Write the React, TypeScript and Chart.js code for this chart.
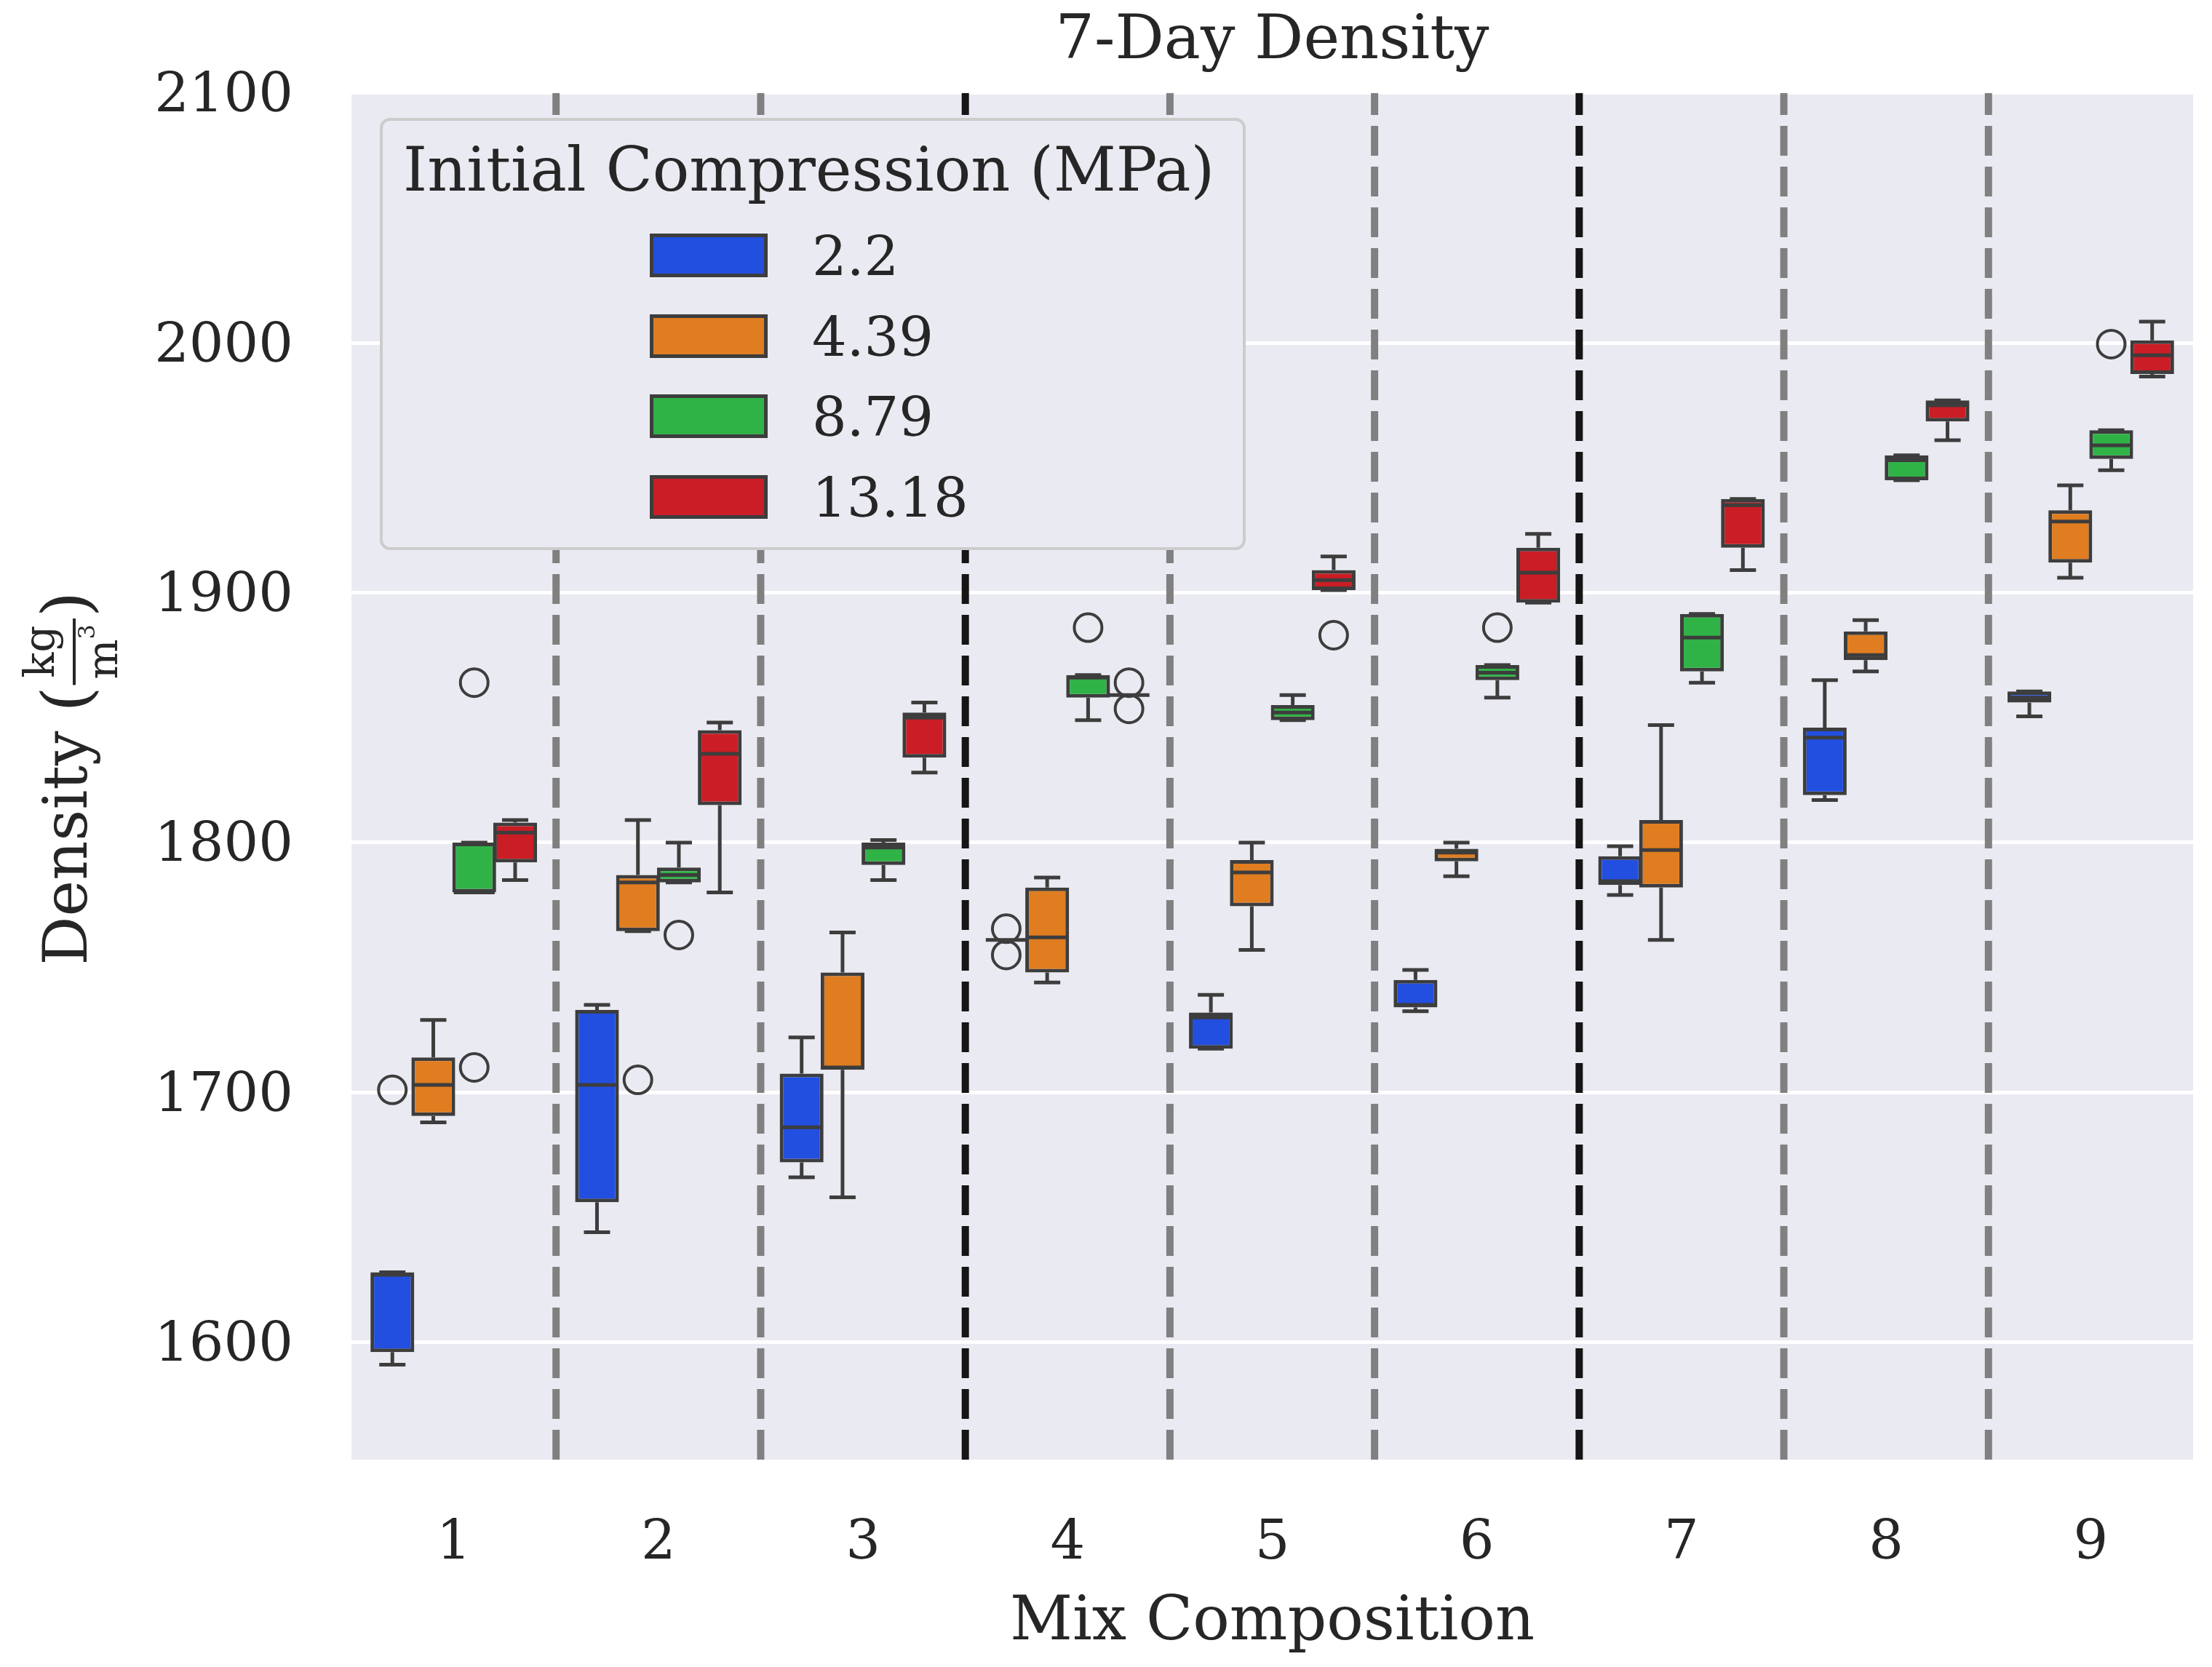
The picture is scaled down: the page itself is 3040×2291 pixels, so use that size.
import React, { useEffect, useRef } from 'react';
import { Chart, registerables } from 'chart.js';

Chart.register(...registerables);

const FONT = '"DejaVu Serif", serif';
const TEXT = '#262626';
const LINE = '#3d3d3d';
const PLOT_BG = '#eaeaf2';

const categories = ['1', '2', '3', '4', '5', '6', '7', '8', '9'];
const hueLabels = ['2.2', '4.39', '8.79', '13.18'];
const hueColors = ['#224fe0', '#df7d20', '#30b346', '#cb1d25'];

// [lower whisker, q1, median, q3, upper whisker] for each mix composition
const boxes22 = [
    [1591, 1596, 1627, 1628, 1628],
    [1644, 1656, 1703, 1733, 1735],
    [1666, 1672, 1686, 1707.5, 1722],
    [1761, 1761, 1761, 1761, 1761],
    [1717.5, 1717.5, 1730, 1732, 1739],
    [1732.5, 1734, 1735, 1745, 1749],
    [1779, 1783, 1784.5, 1794.5, 1798.5],
    [1817, 1819, 1842, 1846, 1865],
    [1850.5, 1856, 1858, 1860.5, 1860.5],
];
const boxes439 = [
    [1688, 1690.5, 1703, 1714, 1729],
    [1764.5, 1764.5, 1784, 1787, 1809],
    [1658, 1709, 1710, 1748, 1764],
    [1744, 1748, 1762, 1782, 1786],
    [1757, 1774.5, 1788, 1793, 1800],
    [1786.5, 1792.5, 1796, 1797.5, 1800],
    [1761, 1782, 1797, 1809, 1847],
    [1868.5, 1873, 1875, 1884.5, 1889],
    [1906, 1912, 1928.5, 1933, 1943],
];
const boxes879 = [
    [1780, 1780, 1780, 1800, 1800],
    [1784, 1784, 1787, 1790, 1800],
    [1785, 1791, 1798, 1800, 1801],
    [1849, 1858, 1866, 1867, 1867],
    [1849, 1849, 1852, 1855, 1859],
    [1858, 1865, 1868, 1871, 1871],
    [1864, 1868.5, 1882, 1891.5, 1891.5],
    [1945, 1945, 1953, 1955, 1955],
    [1949, 1953.5, 1959, 1965, 1965],
];
const boxes1318 = [
    [1785, 1792, 1804, 1808, 1809],
    [1780, 1815, 1835.5, 1845, 1848],
    [1828, 1834, 1850, 1852, 1856],
    [1859, 1859, 1859, 1859, 1859],
    [1901, 1901, 1905, 1909, 1914.5],
    [1896, 1896, 1908, 1918, 1923.5],
    [1909, 1918, 1935, 1937.5, 1937.5],
    [1961, 1968.5, 1975, 1977, 1977],
    [1986.5, 1987.5, 1995, 2001, 2008.5],
];

// [mix index, value]
const outliers22 = [[0, 1701], [3, 1765.5], [3, 1755]];
const outliers439 = [[1, 1705]];
const outliers879 = [[0, 1864], [0, 1710], [1, 1763], [3, 1886], [5, 1886], [8, 1999.5]];
const outliers1318 = [[3, 1864], [3, 1853.5], [4, 1883]];

const yTicks = [1600, 1700, 1800, 1900, 2000, 2100];
const Y_MIN = 1553;
const Y_MAX = 2100;

const allBoxes = [boxes22, boxes439, boxes879, boxes1318];
const allOutliers = [outliers22, outliers439, outliers879, outliers1318];

const HUE_OFFSETS = [-0.3, -0.1, 0.1, 0.3];
const BOX_HALF = 0.1;
const CAP_HALF = 0.064;
const GROUP_SIZE = 3;

// whiskers, caps and medians as broken line segments
function boxLines(stats: number[][], hue: number) {
    const pts: { x: number; y: number | null }[] = [];
    const seg = (x1: number, y1: number, x2: number, y2: number) => {
        pts.push({ x: x1, y: y1 }, { x: x2, y: y2 }, { x: x2, y: null });
    };
    stats.forEach(([lo, q1, med, q3, hi], i) => {
        const c = i + HUE_OFFSETS[hue];
        seg(c, q3, c, hi);
        seg(c - CAP_HALF, hi, c + CAP_HALF, hi);
        seg(c, q1, c, lo);
        seg(c - CAP_HALF, lo, c + CAP_HALF, lo);
        seg(c - BOX_HALF, med, c + BOX_HALF, med);
    });
    return pts;
}

function separatorLines(heavy: boolean) {
    const pts: { x: number; y: number | null }[] = [];
    for (let k = 1; k < categories.length; k++) {
        if ((k % GROUP_SIZE === 0) !== heavy) continue;
        pts.push({ x: k - 0.5, y: Y_MIN }, { x: k - 0.5, y: Y_MAX }, { x: k - 0.5, y: null });
    }
    return pts;
}

const plotBackground = {
    id: 'plotBackground',
    beforeDraw(chart: any) {
        const { ctx, chartArea, width, height } = chart;
        ctx.save();
        ctx.fillStyle = '#ffffff';
        ctx.fillRect(0, 0, width, height);
        ctx.fillStyle = PLOT_BG;
        ctx.fillRect(chartArea.left, chartArea.top, chartArea.right - chartArea.left, chartArea.bottom - chartArea.top);
        ctx.restore();
    },
};

// y title with a stacked kg / m^3 fraction
const yTitle = {
    id: 'yTitle',
    afterDraw(chart: any) {
        const { ctx, chartArea } = chart;
        const cy = (chartArea.top + chartArea.bottom) / 2 + 3;
        ctx.save();
        ctx.fillStyle = TEXT;
        ctx.strokeStyle = TEXT;
        ctx.translate(0, cy);
        ctx.rotate(-Math.PI / 2);
        ctx.textBaseline = 'alphabetic';
        ctx.font = `84px ${FONT}`;
        const wD = ctx.measureText('Density').width;
        ctx.font = `58px ${FONT}`;
        const wNum = ctx.measureText('kg').width;
        const wM = ctx.measureText('m').width;
        ctx.font = `32px ${FONT}`;
        const w3 = ctx.measureText('3').width;
        ctx.font = `90px ${FONT}`;
        const wP = ctx.measureText('(').width;
        const fracW = Math.max(wNum, wM + w3) + 20;
        const space = 26;
        let u = -(wD + space + wP + fracW + wP) / 2;
        ctx.textAlign = 'left';
        ctx.font = `84px ${FONT}`;
        ctx.fillText('Density', u, 119);
        u += wD + space;
        ctx.font = `90px ${FONT}`;
        ctx.fillText('(', u, 122);
        u += wP;
        ctx.lineWidth = 4;
        ctx.beginPath();
        ctx.moveTo(u + 2, 102);
        ctx.lineTo(u + fracW - 2, 102);
        ctx.stroke();
        const fc = u + fracW / 2;
        ctx.font = `58px ${FONT}`;
        ctx.textAlign = 'center';
        ctx.fillText('kg', fc, 74);
        ctx.textAlign = 'left';
        const d0 = fc - (wM + w3) / 2;
        ctx.fillText('m', d0, 161);
        ctx.font = `32px ${FONT}`;
        ctx.fillText('3', d0 + wM, 130);
        u += fracW;
        ctx.font = `90px ${FONT}`;
        ctx.fillText(')', u, 122);
        ctx.restore();
    },
};

const legendBox: React.CSSProperties = {
    position: 'absolute',
    left: 522,
    top: 162,
    width: 1190,
    height: 594,
    boxSizing: 'border-box',
    border: '4px solid #cccccc',
    borderRadius: 14,
    background: PLOT_BG,
    fontFamily: FONT,
    color: TEXT,
};

const App: React.FC = () => {
    const canvasRef = useRef<HTMLCanvasElement>(null);
    const chartRef = useRef<Chart | null>(null);

    useEffect(() => {
        if (!canvasRef.current) return;
        if (chartRef.current) chartRef.current.destroy();

        const datasets: any[] = [];
        allBoxes.forEach((stats, h) => {
            datasets.push({
                type: 'bar',
                label: hueLabels[h],
                data: stats.map((s, i) => ({ x: i + HUE_OFFSETS[h], y: [s[1], s[3]] })),
                backgroundColor: hueColors[h],
                borderColor: LINE,
                borderWidth: 5,
                borderSkipped: false,
                grouped: false,
                categoryPercentage: 1,
                barPercentage: 1.07,
                order: 3,
            });
        });
        allBoxes.forEach((stats, h) => {
            datasets.push({
                type: 'line',
                data: boxLines(stats, h),
                borderColor: LINE,
                borderWidth: 5,
                borderCapStyle: 'butt',
                pointRadius: 0,
                pointHoverRadius: 0,
                fill: false,
                spanGaps: false,
                order: 2,
            });
        });
        datasets.push({
            type: 'scatter',
            data: allOutliers.flatMap((list, h) => list.map(([i, v]) => ({ x: i + HUE_OFFSETS[h], y: v }))),
            pointRadius: 19,
            pointBorderWidth: 4,
            pointBorderColor: LINE,
            pointBackgroundColor: 'rgba(0,0,0,0)',
            order: 1,
        });
        [false, true].forEach((heavy) => {
            datasets.push({
                type: 'line',
                data: separatorLines(heavy),
                borderColor: heavy ? '#151515' : '#808080',
                borderWidth: 10,
                borderDash: [41, 15],
                borderCapStyle: 'butt',
                pointRadius: 0,
                fill: false,
                spanGaps: false,
                order: 0,
            });
        });

        Chart.defaults.font.family = FONT;

        chartRef.current = new Chart(canvasRef.current, {
            type: 'bar',
            data: { datasets },
            options: {
                animation: false,
                responsive: false,
                devicePixelRatio: 1,
                events: [],
                layout: { padding: { left: 0, right: 26, top: 0, bottom: 0 } },
                plugins: {
                    legend: { display: false },
                    tooltip: { enabled: false },
                    title: {
                        display: true,
                        text: '7-Day Density',
                        fullSize: false,
                        color: TEXT,
                        font: { family: FONT, size: 84, weight: 'normal' },
                        padding: { top: 8, bottom: 19 },
                    },
                },
                scales: {
                    x: {
                        type: 'linear',
                        offset: false,
                        min: -0.5,
                        max: categories.length - 0.5,
                        afterBuildTicks: (s: any) => {
                            s.ticks = categories.map((_, i) => ({ value: i }));
                        },
                        grid: { display: false },
                        border: { display: false },
                        ticks: {
                            color: TEXT,
                            font: { family: FONT, size: 75 },
                            padding: 64,
                            autoSkip: false,
                            maxRotation: 0,
                            callback: (_v: any, i: number) => categories[i],
                        },
                        title: {
                            display: true,
                            text: 'Mix Composition',
                            color: TEXT,
                            font: { family: FONT, size: 84 },
                            padding: { top: 0, bottom: 9 },
                        },
                        afterFit: (s: any) => {
                            s.height = 285;
                        },
                    },
                    y: {
                        type: 'linear',
                        min: Y_MIN,
                        max: Y_MAX,
                        afterBuildTicks: (s: any) => {
                            s.ticks = yTicks.map((v) => ({ value: v }));
                        },
                        grid: { color: '#ffffff', lineWidth: 5, drawTicks: false },
                        border: { display: false },
                        ticks: {
                            color: TEXT,
                            font: { family: FONT, size: 75 },
                            padding: 80,
                            labelOffset: 6,
                            callback: (v: any) => String(v),
                        },
                        afterFit: (s: any) => {
                            s.width = 483;
                        },
                    },
                },
            } as any,
            plugins: [plotBackground, yTitle],
        });

        return () => {
            if (chartRef.current) {
                chartRef.current.destroy();
                chartRef.current = null;
            }
        };
    }, []);

    const entryTop = 351 - 166;
    const entryStep = 110.5;

    return (
        <div style={{ position: 'absolute', left: 0, top: 0, width: 3040, height: 2291, background: '#ffffff' }}>
            <canvas ref={canvasRef} width={3040} height={2291} style={{ width: 3040, height: 2291, display: 'block' }} />
            <div style={legendBox}>
                <div style={{ position: 'absolute', left: 28, top: 25, fontSize: 84, lineHeight: '84px', whiteSpace: 'nowrap' }}>
                    Initial Compression (MPa)
                </div>
                {hueLabels.map((label, h) => (
                    <React.Fragment key={label}>
                        <div
                            style={{
                                position: 'absolute',
                                left: 367,
                                top: entryTop + h * entryStep - 30,
                                width: 162,
                                height: 60,
                                boxSizing: 'border-box',
                                border: `5px solid ${LINE}`,
                                background: hueColors[h],
                            }}
                        />
                        <div
                            style={{
                                position: 'absolute',
                                left: 590,
                                top: entryTop + h * entryStep - 36,
                                fontSize: 75,
                                lineHeight: '75px',
                                whiteSpace: 'nowrap',
                            }}
                        >
                            {label}
                        </div>
                    </React.Fragment>
                ))}
            </div>
        </div>
    );
};

export default App;
